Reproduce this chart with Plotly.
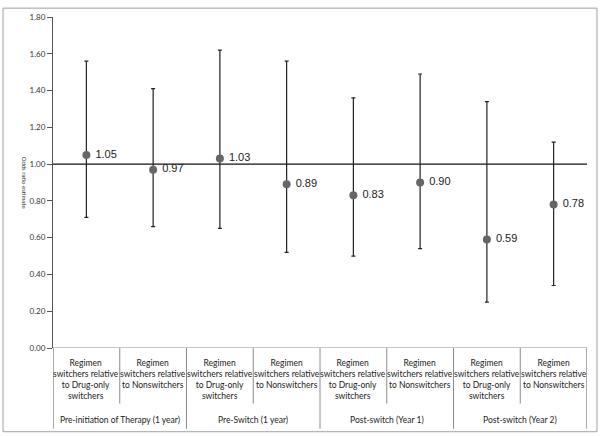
import plotly.graph_objects as go

# comparisons (x categories) and their period groups
comparisons = [
    "Regimen<br>switchers relative<br>to Drug-only<br>switchers",
    "Regimen<br>switchers relative<br>to Nonswitchers",
] * 4
periods = [
    "Pre-initiation of Therapy (1 year)",
    "Pre-Switch (1 year)",
    "Post-switch (Year 1)",
    "Post-switch (Year 2)",
]

odds_ratio = [1.05, 0.97, 1.03, 0.89, 0.83, 0.90, 0.59, 0.78]
ci_upper = [1.56, 1.41, 1.62, 1.56, 1.36, 1.49, 1.34, 1.12]
ci_lower = [0.71, 0.66, 0.65, 0.52, 0.50, 0.54, 0.25, 0.34]

y_ticks = [0.0, 0.2, 0.4, 0.6, 0.8, 1.0, 1.2, 1.4, 1.6, 1.8]

x = list(range(len(odds_ratio)))
err_plus = [u - v for u, v in zip(ci_upper, odds_ratio)]
err_minus = [v - l for v, l in zip(odds_ratio, ci_lower)]

LABEL_FONT = "Lato, Liberation Sans, Arial, sans-serif"

fig = go.Figure()

# reference line at OR = 1
fig.add_trace(go.Scatter(
    x=[-0.5, len(x) - 0.5], y=[1.0, 1.0], mode="lines",
    line=dict(color="#111111", width=1.3), hoverinfo="skip", showlegend=False,
))

fig.add_trace(go.Scatter(
    x=x, y=odds_ratio, mode="markers+text",
    marker=dict(size=8, color="#666666"),
    error_y=dict(type="data", symmetric=False, array=err_plus, arrayminus=err_minus,
                 color="#222222", thickness=1.2, width=2),
    text=[f" {v:.2f}" for v in odds_ratio],
    textposition="middle right",
    textfont=dict(family="Liberation Sans, Arial, sans-serif", size=11, color="#222222"),
    showlegend=False,
))

shapes = []
grey = "#8c8c8c"
# outer frame
shapes.append(dict(type="rect", xref="paper", yref="paper",
                   x0=-0.0936, x1=1.0187, y0=-0.253, y1=1.0268,
                   line=dict(color="#a0a0a0", width=1)))
# category box separators
for i in range(len(x) + 1):
    b = i - 0.5
    long_line = (i % 2 == 0)
    shapes.append(dict(type="line", xref="x", yref="paper",
                       x0=b, x1=b, y0=0, y1=-0.244 if long_line else -0.168,
                       line=dict(color=grey if 0 < i < len(x) else "#555555", width=1)))

annotations = []
for i, c in enumerate(comparisons):
    annotations.append(dict(x=i, y=-0.024, xref="x", yref="paper", text=c,
                            showarrow=False, yanchor="top", align="center",
                            font=dict(family=LABEL_FONT, size=8.5, color="#222222")))
for g, p in enumerate(periods):
    annotations.append(dict(x=2 * g + 0.5, y=-0.218, xref="x", yref="paper", text=p,
                            showarrow=False, yanchor="middle",
                            font=dict(family=LABEL_FONT, size=8.5, color="#222222")))
# y-axis title (tiny in the original)
annotations.append(dict(x=-0.063, y=0.5, xref="paper", yref="paper",
                        text="Odds ratio estimate", textangle=90, showarrow=False,
                        font=dict(family=LABEL_FONT, size=6, color="#333333")))

fig.update_layout(
    width=600, height=436,
    margin=dict(l=53, r=13, t=12, b=88),
    paper_bgcolor="white", plot_bgcolor="white",
    shapes=shapes, annotations=annotations,
    xaxis=dict(range=[-0.5, len(x) - 0.5], showticklabels=False, showgrid=False,
               zeroline=False, showline=False, ticks=""),
    yaxis=dict(range=[0, 1.8], tickvals=y_ticks,
               ticktext=[f"{v:.2f}" for v in y_ticks],
               showgrid=False, zeroline=False, showline=True, linecolor="#555555",
               linewidth=1, ticks="outside", ticklen=5, tickcolor="#555555",
               tickfont=dict(family=LABEL_FONT, size=8, color="#333333")),
)

# x-axis baseline at 0
fig.add_shape(type="line", xref="x", yref="y", x0=-0.5, x1=len(x) - 0.5, y0=0, y1=0,
              line=dict(color=grey, width=1.2))

fig.write_html("out.html", config={"displayModeBar": False},
               post_script="document.body.style.margin='0';")
